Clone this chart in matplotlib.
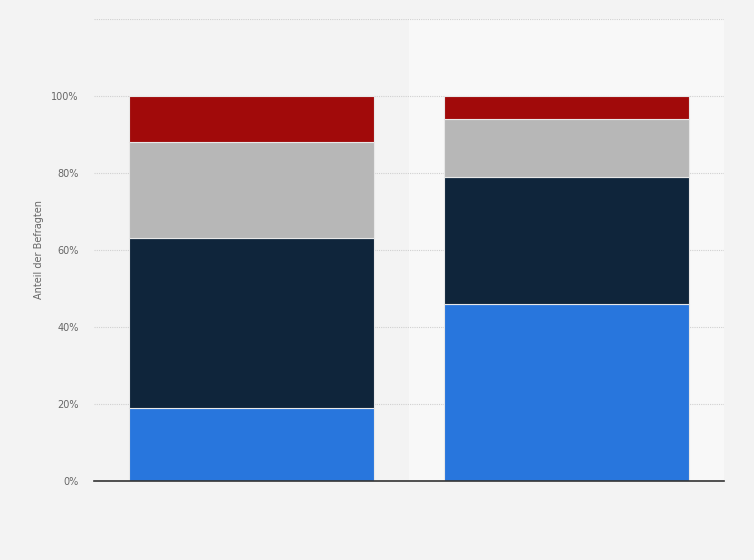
import numpy as np
import matplotlib.pyplot as plt

# Werte (Anteil in %)
kategorien = ['', '']
serie_1 = [19, 46]
serie_2 = [44, 33]
serie_3 = [25, 15]
serie_4 = [12, 6]
farben = ['#2876dd', '#0f253b', '#b7b7b7', '#a10a0a']
yticks = [0, 20, 40, 60, 80, 100, 120]
ylabels = ['0%', '20%', '40%', '60%', '80%', '100%', '']

fig = plt.figure(figsize=(7.54, 5.6), dpi=100)
fig.patch.set_facecolor('#f3f3f3')
ax = fig.add_axes([0.1247, 0.1411, 0.8355, 0.825])
ax.set_facecolor('#f3f3f3')

x = np.arange(len(kategorien))
# hellerer Hintergrundstreifen hinter der zweiten Kategorie
ax.axvspan(0.5, 1.5, color='#f8f8f8', zorder=0)

unten = np.zeros(len(kategorien))
for werte, farbe in zip([serie_1, serie_2, serie_3, serie_4], farben):
    ax.bar(x, werte, bottom=unten, width=0.775, color=farbe,
           edgecolor='#e8e8e8', linewidth=0.8, zorder=3)
    unten += np.array(werte)

ax.set_xlim(-0.5, 1.5)
ax.set_ylim(0, 120)
ax.set_yticks(yticks)
ax.set_yticklabels(ylabels)
ax.set_xticks([])
ax.tick_params(axis='y', length=0, pad=11, labelsize=7, labelcolor='#666666')
ax.grid(axis='y', color='#d0d0d0', linestyle=(0, (1, 1)), linewidth=0.8, zorder=1)
for s in ['top', 'right', 'left']:
    ax.spines[s].set_visible(False)
ax.spines['bottom'].set_color('#333333')
ax.spines['bottom'].set_linewidth(1.2)
ax.spines['bottom'].set_zorder(4)
ax.set_ylabel('Anteil der Befragten', fontsize=7, color='#666666', labelpad=5)

plt.savefig('out.png', dpi=100, facecolor=fig.get_facecolor())
